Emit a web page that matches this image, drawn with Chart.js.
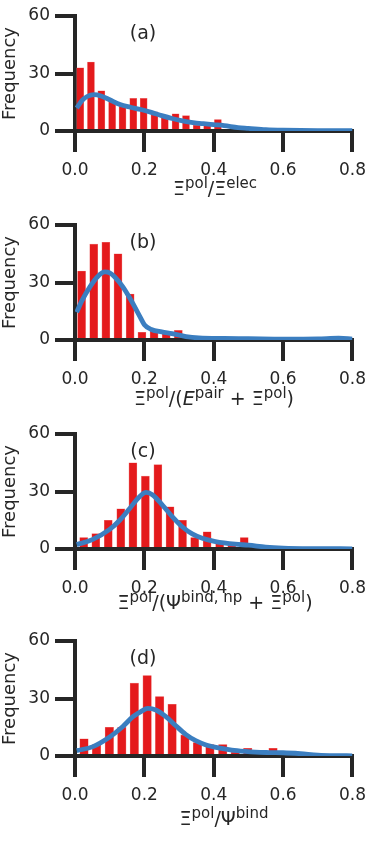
<!DOCTYPE html>
<html>
<head>
<meta charset="utf-8">
<script src="https://cdn.jsdelivr.net/npm/chart.js@4.4.0/dist/chart.umd.min.js"></script>
<style>
  body { margin: 0; background: #fff; }
  .panel { position: absolute; left: 0; width: 374px; height: 216px; }
</style>
</head>
<body>
<div class="panel" style="top:0px"><canvas id="chart_a" width="374" height="216"></canvas></div>
<div class="panel" style="top:209px"><canvas id="chart_b" width="374" height="216"></canvas></div>
<div class="panel" style="top:418px"><canvas id="chart_c" width="374" height="216"></canvas></div>
<div class="panel" style="top:625px"><canvas id="chart_d" width="374" height="216"></canvas></div>
<script>
// histogram bin centres and counts
var binsA = [0.015, 0.046, 0.076, 0.107, 0.137, 0.168, 0.198, 0.229, 0.259, 0.290, 0.320, 0.351, 0.381, 0.412];
var countsA = [33, 36, 21, 16, 13, 17, 17, 10, 7, 9, 8, 3, 3, 6];
var binsB = [0.019, 0.054, 0.089, 0.124, 0.159, 0.193, 0.228, 0.263, 0.298];
var countsB = [36, 50, 51, 45, 24, 4, 5, 4, 5];
var binsC = [0.025, 0.060, 0.096, 0.132, 0.167, 0.203, 0.239, 0.274, 0.310, 0.345, 0.381, 0.417, 0.452, 0.488];
var countsC = [6, 8, 15, 21, 45, 38, 44, 22, 15, 6, 9, 4, 2, 6];
var binsD = [0.026, 0.062, 0.099, 0.135, 0.171, 0.208, 0.244, 0.280, 0.317, 0.353, 0.389, 0.426, 0.462, 0.498, 0.535, 0.571, 0.607, 0.644];
var countsD = [9, 6, 15, 15, 38, 42, 31, 27, 11, 7, 6, 6, 2, 4, 3, 4, 2, 1];

// density curves (blue)
var kdeXA = [0.005, 0.02, 0.035, 0.055, 0.075, 0.1, 0.13, 0.16, 0.19, 0.22, 0.25, 0.28, 0.31, 0.34, 0.37, 0.4, 0.43, 0.47, 0.5, 0.55, 0.6, 0.7, 0.8];
var kdeYA = [12, 15.8, 18, 19, 18.3, 16.3, 13.8, 12.4, 11.2, 9.7, 8, 6.5, 5.3, 4.4, 3.8, 3.3, 2.8, 1.8, 1.4, 0.7, 0.4, 0.2, 0.2];
var kdeXB = [0.005, 0.02, 0.043, 0.065, 0.086, 0.1, 0.114, 0.138, 0.162, 0.186, 0.2, 0.22, 0.25, 0.28, 0.32, 0.357, 0.43, 0.5, 0.6, 0.7, 0.76, 0.8];
var kdeYB = [14.5, 20.5, 27.7, 33, 35.5, 35, 33, 27.7, 20.6, 12.6, 8, 5.5, 4.2, 3.3, 1.8, 1.1, 0.8, 0.7, 0.5, 0.6, 0.9, 0.5];
var kdeXC = [0.005, 0.05, 0.1, 0.129, 0.157, 0.186, 0.205, 0.224, 0.252, 0.281, 0.31, 0.338, 0.367, 0.405, 0.462, 0.5, 0.55, 0.6, 0.7, 0.8];
var kdeYC = [2.3, 4.9, 10.2, 15, 21, 27.3, 29.5, 28.2, 22.9, 16.8, 11.5, 7.9, 5.6, 3.9, 2.5, 2, 1, 0.5, 0.2, 0.1];
var kdeXD = [0.005, 0.052, 0.1, 0.138, 0.167, 0.19, 0.21, 0.233, 0.262, 0.29, 0.319, 0.348, 0.376, 0.414, 0.452, 0.49, 0.52, 0.56, 0.6, 0.65, 0.7, 0.75, 0.8];
var kdeYD = [2.8, 4.9, 9.9, 15.4, 20.5, 23.2, 24.8, 24, 20.5, 15.9, 11.3, 8, 5.9, 4.2, 3.1, 2.4, 2, 1.8, 1.7, 1.2, 0.5, 0.2, 0.1];

// axis title pieces: [text, style]
var titleA = [["Ξ"], ["pol", "sup"], ["/Ξ"], ["elec", "sup"]];
var titleB = [["Ξ"], ["pol", "sup"], ["/("], ["E", "it"], ["pair", "sup"], [" + Ξ"], ["pol", "sup"], [")"]];
var titleC = [["Ξ"], ["pol", "sup"], ["/(Ψ"], ["bind, np", "sup"], [" + Ξ"], ["pol", "sup"], [")"]];
var titleD = [["Ξ"], ["pol", "sup"], ["/Ψ"], ["bind", "sup"]];

var xTicks = [0, 0.2, 0.4, 0.6, 0.8];
var yTicks = [0, 30, 60];

var ink = "#262626";
Chart.defaults.font.family = '"DejaVu Sans", sans-serif';

// panel label and superscripted x-axis title
const panelText = {
  id: "panelText",
  afterDraw(chart) {
    var o = chart.options.plugins.panelText;
    var ctx = chart.ctx;
    var area = chart.chartArea;
    ctx.save();
    ctx.fillStyle = ink;
    ctx.font = '19px "DejaVu Sans"';
    ctx.textAlign = "center";
    ctx.textBaseline = "middle";
    ctx.fillText(o.label, o.labelX, area.top + 18);

    ctx.textAlign = "left";
    ctx.textBaseline = "alphabetic";
    var fontOf = function (s) {
      if (s[1] === "sup") return '15px "DejaVu Sans"';
      if (s[1] === "it") return 'italic 19px "DejaVu Sans"';
      return '19px "DejaVu Sans"';
    };
    var w = 0;
    o.title.forEach(function (s) { ctx.font = fontOf(s); w += ctx.measureText(s[0]).width; });
    var x = o.titleX - w / 2;
    o.title.forEach(function (s) {
      ctx.font = fontOf(s);
      ctx.fillText(s[0], x, o.titleY - (s[1] === "sup" ? 7 : 0));
      x += ctx.measureText(s[0]).width;
    });
    ctx.restore();
  }
};

function makeChart(id, bins, counts, kdeX, kdeY, label, title, titleX, titleY, barW) {
  var bars = bins.map(function (b, i) { return { x: b, y: counts[i] }; });
  var curve = kdeX.map(function (v, i) { return { x: v, y: kdeY[i] }; });
  new Chart(document.getElementById(id), {
    type: "bar",
    data: {
      datasets: [
        {
          type: "line",
          data: curve,
          borderColor: "#3b7ec0",
          borderWidth: 4.8,
          pointRadius: 0,
          cubicInterpolationMode: "monotone",
          order: 0,
        },
        {
          type: "bar",
          data: bars,
          backgroundColor: "#e41a1c",
          borderColor: "#ee7070",
          borderWidth: 0.6,
          barThickness: barW,
          order: 1,
        },
      ],
    },
    options: {
      responsive: false,
      animation: false,
      layout: { padding: { top: 16, right: 19, left: 0, bottom: 0 } },
      plugins: {
        legend: { display: false },
        tooltip: { enabled: false },
        panelText: { label: label, labelX: 143, title: title, titleX: titleX, titleY: titleY },
      },
      scales: {
        x: {
          type: "linear",
          min: 0,
          max: 0.8,
          offset: false,
          afterBuildTicks: function (s) { s.ticks = xTicks.map(function (v) { return { value: v }; }); },
          afterFit: function (s) { s.height = 85; },
          grid: { offset: false, drawOnChartArea: false, tickLength: 21, lineWidth: 4, color: ink },
          border: { width: 4, color: ink },
          ticks: {
            padding: 8,
            color: ink,
            font: { size: 17 },
            maxRotation: 0,
            callback: function (v) { return v.toFixed(1); },
          },
        },
        y: {
          min: 0,
          max: 60,
          afterBuildTicks: function (s) { s.ticks = yTicks.map(function (v) { return { value: v }; }); },
          afterFit: function (s) { s.width = 75; },
          grid: { drawOnChartArea: false, tickLength: 20, lineWidth: 4, color: ink },
          border: { width: 4, color: ink },
          ticks: { padding: 5, color: ink, font: { size: 17 } },
          title: { display: true, text: "Frequency", color: ink, font: { size: 18 }, padding: 0 },
        },
      },
    },
    plugins: [panelText],
  });
}

makeChart("chart_a", binsA, countsA, kdeXA, kdeYA, "(a)", titleA, 215, 195, 7);
makeChart("chart_b", binsB, countsB, kdeXB, kdeYB, "(b)", titleB, 214, 196, 8);
makeChart("chart_c", binsC, countsC, kdeXC, kdeYC, "(c)", titleC, 215, 191, 8);
makeChart("chart_d", binsD, countsD, kdeXD, kdeYD, "(d)", titleD, 224, 200, 8.5);
</script>
</body>
</html>
